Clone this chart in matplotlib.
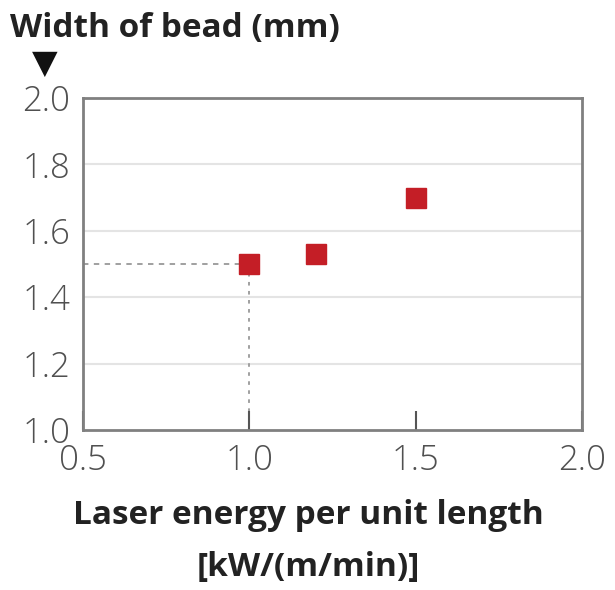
import matplotlib.pyplot as plt

# Data
energia = [1.0, 1.2, 1.5]          # kW/(m/min)
largura = [1.50, 1.53, 1.70]       # mm
ref_x = 1.0
ref_y = 1.5

plt.rcParams['font.family'] = ['Open Sans', 'DejaVu Sans']

fig = plt.figure(figsize=(6.15, 5.9), dpi=100)
ax = fig.add_axes([83 / 615, 1 - 430 / 590, (582 - 83) / 615, (430 - 98) / 590])

# grade horizontal clara
for y in [1.2, 1.4, 1.6, 1.8]:
    ax.axhline(y, color='#e4e4e4', lw=1.5, zorder=0)

# linhas de referencia tracejadas
ax.plot([0.5, ref_x], [ref_y, ref_y], ls=(0, (3, 3)), color='#999999', lw=1.3, zorder=1)
ax.plot([ref_x, ref_x], [1.0, ref_y], ls=(0, (2, 3)), color='#999999', lw=1.3, zorder=1)

ax.plot(energia, largura, ls='none', marker='s', markersize=15,
        color='#c41e26', zorder=3)

ax.set_xlim(0.5, 2.0)
ax.set_ylim(1.0, 2.0)
ax.set_xticks([0.5, 1.0, 1.5, 2.0])
ax.set_yticks([1.0, 1.2, 1.4, 1.6, 1.8, 2.0])
ax.set_xticklabels(['0.5', '1.0', '1.5', '2.0'])
ax.set_yticklabels(['1.0', '1.2', '1.4', '1.6', '1.8', '2.0'])

for s in ax.spines.values():
    s.set_color('#808080')
    s.set_linewidth(2)

ax.tick_params(axis='x', direction='in', length=14, width=1.5, color='#555555',
               labelsize=25, labelcolor='#505050', pad=10)
ax.tick_params(axis='y', length=0, labelsize=25, labelcolor='#505050', pad=9)
for lbl in ax.get_xticklabels() + ax.get_yticklabels():
    lbl.set_fontweight('light')

fig.text(10 / 615, 1 - 28 / 590, 'Width of bead (mm)', fontsize=24, fontweight='bold',
         color='#222222', va='center', ha='left')
fig.text(45 / 615, 1 - 63 / 590, '▼', fontsize=24, color='#111111',
         va='center', ha='center', family='DejaVu Sans')

fig.text(308 / 615, 1 - 515 / 590, 'Laser energy per unit length', fontsize=24,
         fontweight='bold', color='#222222', ha='center', va='center')
fig.text(308 / 615, 1 - 567 / 590, '[kW/(m/min)]', fontsize=24,
         fontweight='bold', color='#222222', ha='center', va='center')

fig.savefig('out.png', dpi=100, facecolor='white')
